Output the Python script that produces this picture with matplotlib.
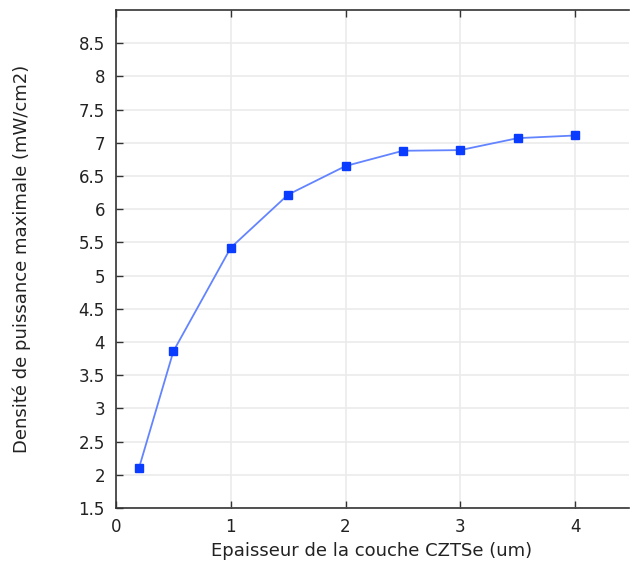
import matplotlib
matplotlib.use("Agg")
import matplotlib.pyplot as plt
from matplotlib.ticker import FixedLocator, FuncFormatter

thickness = [0.2, 0.5, 1.0, 1.5, 2.0, 2.5, 3.0, 3.5, 4.0]
power_density = [2.10, 3.86, 5.42, 6.22, 6.65, 6.88, 6.89, 7.07, 7.11]
x_ticks = [0, 1, 2, 3, 4]
y_ticks = [1.5, 2, 2.5, 3, 3.5, 4, 4.5, 5, 5.5, 6, 6.5, 7, 7.5, 8, 8.5]

fig = plt.figure(figsize=(6.30, 5.62), dpi=100)
ax = fig.add_axes([116 / 630, 1 - 508 / 562, (629 - 116) / 630, (508 - 10) / 562])

ax.plot(thickness, power_density, color="#6384ff", lw=1.3, zorder=3)
ax.plot(thickness, power_density, ls="none", marker="s", ms=5.5,
        color="#0a3cff", mec="#0a3cff", zorder=4)

ax.set_xlim(0, 4.47)
ax.set_ylim(1.5, 9.0)
ax.xaxis.set_major_locator(FixedLocator(x_ticks))
ax.yaxis.set_major_locator(FixedLocator(y_ticks))
ax.yaxis.set_major_formatter(FuncFormatter(lambda v, p: f"{v:g}"))

ax.grid(True, color="#ebebeb", lw=1.2, zorder=0)
ax.set_axisbelow(True)

for s in ["left", "bottom", "top"]:
    ax.spines[s].set_color("#333333")
    ax.spines[s].set_linewidth(1.2)
ax.spines["right"].set_visible(False)

ax.tick_params(axis="both", direction="in", length=5, width=1, color="#333333",
               labelsize=12, labelcolor="#222222", top=True)
ax.tick_params(axis="x", pad=7)
ax.tick_params(axis="y", pad=8)

ax.set_xlabel("Epaisseur de la couche CZTSe (um)", fontsize=13, color="#222222")
ax.set_ylabel("Densité de puissance maximale (mW/cm2)", fontsize=13, color="#222222")
ax.xaxis.set_label_coords(0.498, -0.068)
ax.yaxis.set_label_coords(-0.166, 0.5)

fig.savefig("out.png", dpi=100)
